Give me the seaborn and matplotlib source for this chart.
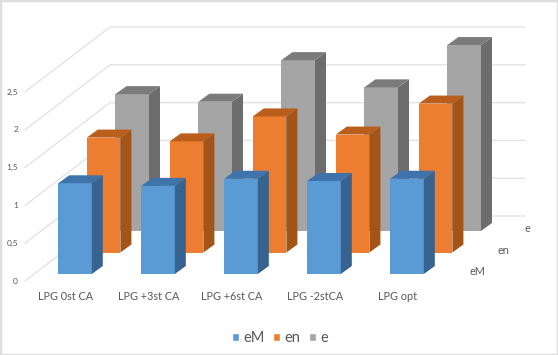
import matplotlib
matplotlib.use("Agg")
import matplotlib.pyplot as plt
import pandas as pd
import seaborn as sns
from matplotlib.patches import Patch, Polygon, Rectangle

# values
categories = ["LPG 0st CA", "LPG +3st CA", "LPG +6st CA", "LPG -2stCA", "LPG opt"]
eM = [1.20, 1.165, 1.26, 1.23, 1.26]
en = [1.52, 1.47, 1.80, 1.56, 1.97]
e = [1.81, 1.71, 2.26, 1.90, 2.46]
series_names = ["eM", "en", "e"]
grid_values = [0, 0.5, 1, 1.5, 2, 2.5]
grid_labels = ["0", "0,5", "1", "1,5", "2", "2,5"]

front = ["#5B9BD5", "#ED7D31", "#A5A5A5"]
top = ["#3E74AB", "#BA5E1C", "#7B7B7B"]
side = ["#36638F", "#A35417", "#6D6D6D"]
row_label_shift = [20.5, 18.9, 15.8]

W, H = 558, 355
CAT_PX = 83.0
UNIT_PX = 75.6
TEXT = "#595959"

sns.set_theme(style="white")
plt.rcParams["font.family"] = ["Lato", "DejaVu Sans"]


def make_axes(left, base):
    # left and base are pixels from the top left corner of the image
    a = fig.add_axes([left / W, (H - base) / H, 5 * CAT_PX / W, 2.5 * UNIT_PX / H])
    a.patch.set_alpha(0)
    return a


fig = plt.figure(figsize=(W / 100, H / 100), dpi=100, facecolor="white")
fig.add_artist(Rectangle((0, 0), 1, 1, transform=fig.transFigure, fill=False,
                         edgecolor="#dedede", linewidth=2.5))

# back wall with the grid and the slanted lines on the side
wall = make_axes(110, 216)
wall.set_xlim(-0.5, 4.5)
wall.set_ylim(0, 2.5)
wall.axis("off")
sx = 85 / CAT_PX
sy = 65 / UNIT_PX
for v, lab in zip(grid_values, grid_labels):
    wall.plot([-0.5 - sx, -0.5, 4.5], [v - sy, v, v], color="#e3e3e3", lw=1.0, clip_on=False)
    wall.annotate(lab, (-0.5 - sx, v - sy), xytext=(-5, 0), textcoords="offset points",
                  ha="right", va="center", fontsize=6, color=TEXT, annotation_clip=False)

df = pd.DataFrame({"category": categories, "eM": eM, "en": en, "e": e})

# drawn from the back row to the front row
for i in [2, 1, 0]:
    ax = make_axes(33.5 + 28.6 * i, 274 - 21.5 * i)
    ax.set_zorder(5 - i)
    sns.barplot(data=df, x="category", y=series_names[i], color=front[i], saturation=1,
                width=0.405, linewidth=0, edgecolor="none", ax=ax)
    ax.set_xlim(-0.5, 4.5)
    ax.set_ylim(0, 2.5)
    ax.axis("off")
    dx = 11 / CAT_PX
    dy = 8 / UNIT_PX
    for bar in ax.containers[0]:
        x0 = bar.get_x()
        x1 = x0 + bar.get_width()
        h = bar.get_height()
        bar.set_clip_on(False)
        ax.add_patch(Polygon([(x1, 0), (x1 + dx, dy), (x1 + dx, h + dy), (x1, h)],
                             facecolor=side[i], edgecolor="none", clip_on=False))
        ax.add_patch(Polygon([(x0, h), (x0 + dx, h + dy), (x1 + dx, h + dy), (x1, h)],
                             facecolor=top[i], edgecolor="none", clip_on=False))
    # names of the rows on the right side
    ax.annotate(series_names[i], (4.5, 0), xytext=(row_label_shift[i], 1.5), textcoords="offset points",
                ha="center", va="center", fontsize=7.8, color=TEXT, annotation_clip=False)
    if i == 0:
        for k, c in enumerate(categories):
            ax.annotate(c, (k, 0), xytext=(-6.5, -16.5), textcoords="offset points",
                        ha="center", va="center", fontsize=7.8, color=TEXT, annotation_clip=False)

handles = [Patch(facecolor=front[i], label=series_names[i]) for i in range(3)]
fig.legend(handles=handles, loc="center", bbox_to_anchor=(280 / W, (H - 338) / H), ncol=3,
           frameon=False, fontsize=10.5, labelcolor=TEXT, handlelength=0.5, handleheight=0.5,
           handletextpad=0.3, columnspacing=0.55, borderpad=0)

fig.savefig("out.png", dpi=100)
